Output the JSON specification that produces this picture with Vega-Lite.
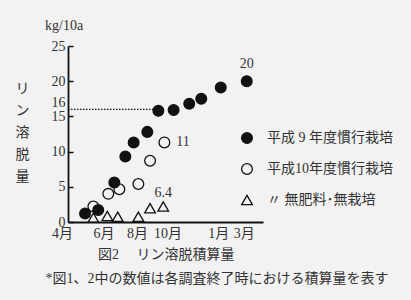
{
  "$schema": "https://vega.github.io/schema/vega-lite/v6.json",
  "width": 195,
  "height": 176,
  "autosize": {"type": "none"},
  "padding": {"left": 68, "top": 46, "right": 148, "bottom": 78},
  "background": "#f2f2f2",
  "config": {"view": {"stroke": null}, "font": "Liberation Serif, Noto Sans CJK JP", "axis": {"labelOverlap": false, "labelFlush": false}},
  "title": {"text": "kg/10a", "anchor": "start", "frame": "group", "orient": "top", "baseline": "bottom", "dx": -23, "dy": 24, "offset": 16, "fontSize": 14, "fontWeight": "normal", "color": "#333", "font": "Liberation Serif"},
  "datasets": {
    "pts": [
      {"series": "平成10年度慣行栽培", "month": 1.56, "value": 2.2},
      {"series": "平成10年度慣行栽培", "month": 2.48, "value": 4.0},
      {"series": "平成10年度慣行栽培", "month": 3.16, "value": 4.65},
      {"series": "平成10年度慣行栽培", "month": 4.33, "value": 5.4},
      {"series": "平成10年度慣行栽培", "month": 5.05, "value": 8.7},
      {"series": "平成10年度慣行栽培", "month": 5.93, "value": 11.3, "label": "11"},
      {"series": "平成 9 年度慣行栽培", "month": 1.05, "value": 1.2},
      {"series": "平成 9 年度慣行栽培", "month": 1.86, "value": 1.7},
      {"series": "平成 9 年度慣行栽培", "month": 2.85, "value": 5.6},
      {"series": "平成 9 年度慣行栽培", "month": 3.53, "value": 9.3},
      {"series": "平成 9 年度慣行栽培", "month": 4.04, "value": 11.3},
      {"series": "平成 9 年度慣行栽培", "month": 4.88, "value": 12.8},
      {"series": "平成 9 年度慣行栽培", "month": 5.56, "value": 15.8},
      {"series": "平成 9 年度慣行栽培", "month": 6.5, "value": 15.9},
      {"series": "平成 9 年度慣行栽培", "month": 7.46, "value": 16.8},
      {"series": "平成 9 年度慣行栽培", "month": 8.2, "value": 17.5},
      {"series": "平成 9 年度慣行栽培", "month": 9.4, "value": 19.1},
      {"series": "平成 9 年度慣行栽培", "month": 11.0, "value": 20.0, "label": "20"},
      {"series": "無肥料･無栽培", "month": 1.56, "value": 0.6},
      {"series": "無肥料･無栽培", "month": 2.42, "value": 0.85},
      {"series": "無肥料･無栽培", "month": 3.06, "value": 0.75},
      {"series": "無肥料･無栽培", "month": 4.33, "value": 0.75},
      {"series": "無肥料･無栽培", "month": 5.05, "value": 1.95},
      {"series": "無肥料･無栽培", "month": 5.86, "value": 2.2, "label": "6.4"}
    ],
    "ref": [{"from": 0, "to": 5.56, "level": 16}]
  },
  "layer": [
    {
      "data": {"name": "ref"},
      "mark": {"type": "rule", "strokeDash": [1.5, 1.5], "strokeWidth": 1.2, "color": "#111"},
      "encoding": {
        "x": {"field": "from", "type": "quantitative", "scale": {"domain": [0, 12], "nice": false}, "axis": {
          "values": [0, 2, 4, 6, 9, 11], "tickCount": 20,
          "labelExpr": "((datum.value + 3) % 12 + 1) + '月'",
          "labelOverlap": false, "labelFlush": false,
          "labelOffset": {"condition": [
            {"test": "datum.value == 0", "value": -6},
            {"test": "datum.value == 2", "value": 3},
            {"test": "datum.value == 4", "value": 4},
            {"test": "datum.value == 6", "value": 2},
            {"test": "datum.value == 9", "value": 4},
            {"test": "datum.value == 11", "value": -3}
          ], "value": 0},
          "ticks": false, "grid": false,
          "domainColor": "#111", "domainWidth": 2,
          "labelFontSize": 14, "labelColor": "#333", "labelPadding": 4,
          "title": ["\u200b　　　\u00a0\u00a0\u00a0図2　\u00a0リン溶脱積算量", "*図1、2中の数値は各調査終了時における積算量を表す"],
          "titleAlign": "left", "titleAnchor": "start", "titleX": -23, "titleY": 25, "titleBaseline": "top",
          "titleLineHeight": 24, "titleFontSize": 14, "titleFontWeight": "normal", "titleColor": "#333"
        }},
        "x2": {"field": "to"},
        "y": {"field": "level", "type": "quantitative", "scale": {"domain": [0, 25], "nice": false}, "axis": {
          "values": [0, 5, 10, 15, 16, 20, 25], "tickCount": 20,
          "labelOverlap": false, "labelFlush": false,
          "grid": false, "tickSize": -5, "tickWidth": 1.5, "tickColor": "#111",
          "tickOpacity": {"condition": {"test": "datum.value == 16", "value": 0}, "value": 1},
          "labelOffset": {"condition": {"test": "datum.value == 16", "value": -7}, "value": 0},
          "domainColor": "#111", "domainWidth": 1.8,
          "labelFontSize": 14, "labelColor": "#333", "labelPadding": 8,
          "title": ["リ", "ン", "溶", "脱", "量"],
          "titleAngle": 0, "titleX": -46, "titleY": 35, "titleAlign": "center", "titleBaseline": "top",
          "titleLineHeight": 22, "titleFontSize": 14, "titleFontWeight": "normal", "titleColor": "#333",
          "titleFont": "Noto Sans CJK JP"
        }}
      }
    },
    {
      "data": {"name": "pts"},
      "mark": {"type": "point", "strokeWidth": 1.3, "opacity": 1, "size": 115},
      "encoding": {
        "x": {"field": "month", "type": "quantitative"},
        "y": {"field": "value", "type": "quantitative"},
        "fill": {"field": "series", "type": "nominal",
          "scale": {"domain": ["平成 9 年度慣行栽培", "平成10年度慣行栽培", "無肥料･無栽培"], "range": ["#111", "transparent", "transparent"]},
          "legend": {"title": null, "orient": "none", "legendX": 172, "legendY": 85, "padding": 0,
            "labelFontSize": 14, "labelColor": "#333", "labelOffset": 13, "rowPadding": 15,
            "symbolSize": 115, "symbolStrokeWidth": 1.3,
            "labelExpr": "datum.label == '無肥料･無栽培' ? '　〃 無肥料･無栽培' : datum.label"}},
        "stroke": {"field": "series", "type": "nominal",
          "scale": {"domain": ["平成 9 年度慣行栽培", "平成10年度慣行栽培", "無肥料･無栽培"], "range": ["#111", "#111", "#111"]},
          "legend": {"title": null, "orient": "none", "legendX": 172, "legendY": 85, "padding": 0,
            "labelFontSize": 14, "labelColor": "#333", "labelOffset": 13, "rowPadding": 15,
            "symbolSize": 115, "symbolStrokeWidth": 1.3,
            "labelExpr": "datum.label == '無肥料･無栽培' ? '　〃 無肥料･無栽培' : datum.label"}},
        "shape": {"field": "series", "type": "nominal",
          "scale": {"domain": ["平成 9 年度慣行栽培", "平成10年度慣行栽培", "無肥料･無栽培"], "range": ["circle", "circle", "triangle-up"]},
          "legend": {"title": null, "orient": "none", "legendX": 172, "legendY": 85, "padding": 0,
            "labelFontSize": 14, "labelColor": "#333", "labelOffset": 13, "rowPadding": 15,
            "symbolSize": 115, "symbolStrokeWidth": 1.3,
            "labelExpr": "datum.label == '無肥料･無栽培' ? '　〃 無肥料･無栽培' : datum.label"}}
      }
    },
    {
      "data": {"name": "pts"},
      "transform": [{"filter": "datum.label == '20'"}],
      "mark": {"type": "text", "dy": -17, "fontSize": 14, "color": "#333"},
      "encoding": {"x": {"field": "month", "type": "quantitative"}, "y": {"field": "value", "type": "quantitative"}, "text": {"field": "label"}}
    },
    {
      "data": {"name": "pts"},
      "transform": [{"filter": "datum.label == '11'"}],
      "mark": {"type": "text", "dx": 12, "align": "left", "fontSize": 14, "color": "#333"},
      "encoding": {"x": {"field": "month", "type": "quantitative"}, "y": {"field": "value", "type": "quantitative"}, "text": {"field": "label"}}
    },
    {
      "data": {"name": "pts"},
      "transform": [{"filter": "datum.label == '6.4'"}],
      "mark": {"type": "text", "dy": -14, "fontSize": 14, "color": "#333"},
      "encoding": {"x": {"field": "month", "type": "quantitative"}, "y": {"field": "value", "type": "quantitative"}, "text": {"field": "label"}}
    }
  ]
}
